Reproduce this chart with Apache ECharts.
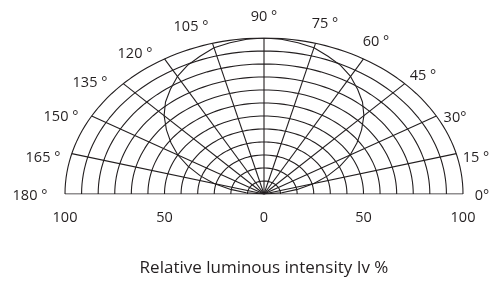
<!DOCTYPE html>
<html>
<head>
<meta charset="utf-8">
<script src="https://cdn.jsdelivr.net/npm/echarts@6/dist/echarts.min.js"></script>
<style>
  html, body { margin: 0; padding: 0; background: #fff; }
  #chart { width: 494px; height: 282px; }
</style>
</head>
<body>
<div id="chart"></div>
<script>
// relative intensity (%), every 5 degrees
var curveAngles = [0, 5, 10, 15, 20, 25, 30, 35, 40, 45, 50, 55, 60, 65, 70, 75, 80, 85, 90,
                   95, 100, 105, 110, 115, 120, 125, 130, 135, 140, 145, 150, 155, 160, 165, 170, 175, 180];
var curveValues = [0, 9, 17, 26, 34, 42, 50, 57, 64, 71, 77, 82, 87, 91, 94, 97, 98.5, 99.6, 100,
                   99.6, 98.5, 97, 94, 91, 87, 82, 77, 71, 64, 57, 50, 42, 34, 26, 17, 9, 0];

// grid: rings (percent) and spokes (degrees)
var ringValues = [8.33, 16.67, 25, 33.33, 41.67, 50, 58.33, 66.67, 75, 83.33, 91.67, 100];
var spokeAngles = [0, 15, 30, 45, 60, 75, 90, 105, 120, 135, 150, 165, 180];

// x axis tick labels
var xTicks = [-100, -50, 0, 50, 100];

// angle labels and where they sit
var angleLabels = ['0°', '15 °', '30°', '45 °', '60 °', '75 °', '90 °', '105 °', '120 °', '135 °', '150 °', '165 °', '180 °'];
var angleLabelPos = [[482, 196], [476, 158], [455, 118], [423, 76], [376, 42], [325, 24], [264, 17],
                     [191, 27], [135, 54], [90, 83], [61, 117], [43, 158], [30, 196]];

var LINE = '#231f20';
var TEXT = '#231f20';

function toXY(angle, r) {
  var a = angle * Math.PI / 180;
  return [r * Math.cos(a), r * Math.sin(a)];
}

var series = [];

ringValues.forEach(function (r) {
  var pts = [];
  for (var a = 0; a <= 180; a += 2) pts.push(toXY(a, r));
  series.push({
    type: 'line', data: pts, showSymbol: false, silent: true,
    lineStyle: { color: LINE, width: 1.1 }
  });
});

spokeAngles.forEach(function (a) {
  series.push({
    type: 'line', data: [[0, 0], toXY(a, 100)], showSymbol: false, silent: true,
    lineStyle: { color: LINE, width: 1.1 }
  });
});

series.push({
  type: 'line',
  data: curveAngles.map(function (a, i) { return toXY(a, curveValues[i]); }),
  showSymbol: false, silent: true,
  lineStyle: { color: LINE, width: 1.1 }
});

var chart = echarts.init(document.getElementById('chart'));
chart.setOption({
  animation: false,
  grid: { left: 65, right: 31, top: 38, bottom: 79 },
  xAxis: {
    type: 'value', min: -100, max: 100, interval: 50,
    axisLine: { show: false }, axisTick: { show: false }, splitLine: { show: false },
    axisLabel: {
      margin: 16, color: TEXT, fontSize: 14.5, fontFamily: 'Open Sans',
      customValues: xTicks,
      formatter: function (v) { return String(Math.abs(v)); }
    },
    name: 'Relative luminous intensity Iv %',
    nameLocation: 'middle', nameGap: 66,
    nameTextStyle: { color: TEXT, fontSize: 17, fontFamily: 'Open Sans' }
  },
  yAxis: { type: 'value', min: 0, max: 100, show: false },
  graphic: angleLabels.map(function (t, i) {
    return {
      type: 'text', x: angleLabelPos[i][0], y: angleLabelPos[i][1],
      style: { text: t, fill: TEXT, font: '14.5px "Open Sans"', align: 'center', verticalAlign: 'middle' }
    };
  }),
  series: series
});
</script>
</body>
</html>
